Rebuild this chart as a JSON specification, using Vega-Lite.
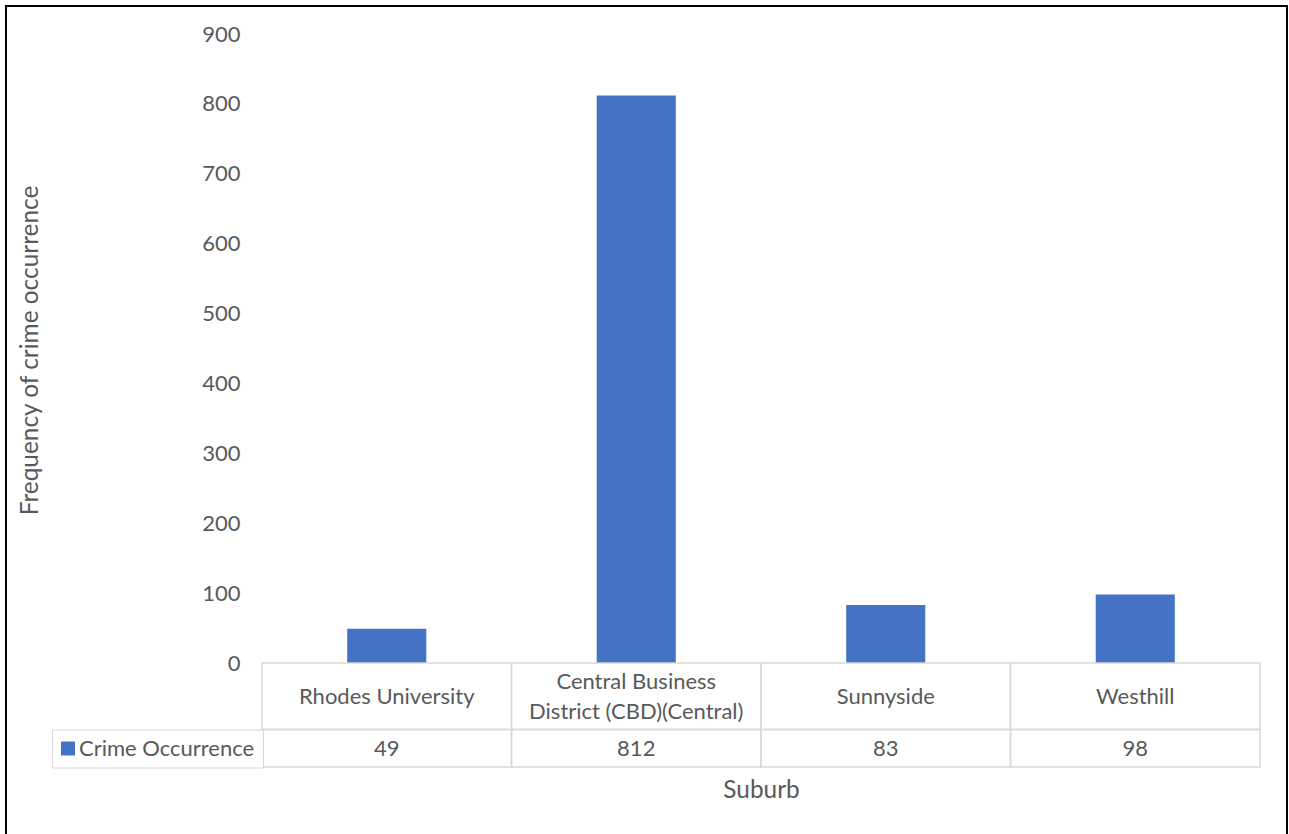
{
  "$schema": "https://vega.github.io/schema/vega-lite/v6.json",
  "autosize": {"type": "none"},
  "padding": {"left": 6, "top": 6, "right": 2, "bottom": -2},
  "width": 1281,
  "height": 830,
  "background": "white",
  "config": {
    "view": {"stroke": "#000000", "strokeWidth": 2, "fill": "white"},
    "font": "Lato",
    "text": {"font": "Lato", "fontSize": 22, "fill": "#595959"}
  },
  "data": {
    "values": [
      {"suburb": "Rhodes University", "label": "Rhodes University", "crimes": 49},
      {"suburb": "Central Business District (CBD)(Central)", "label": "Central Business\nDistrict (CBD)(Central)", "crimes": 812},
      {"suburb": "Sunnyside", "label": "Sunnyside", "crimes": 83},
      {"suburb": "Westhill", "label": "Westhill", "crimes": 98}
    ]
  },
  "encoding": {
    "x": {
      "field": "suburb",
      "type": "nominal",
      "sort": null,
      "scale": {"range": [256, 1254], "paddingInner": 0, "paddingOuter": 0},
      "axis": {
        "title": "Suburb",
        "labels": false,
        "ticks": false,
        "domain": false,
        "grid": false,
        "offset": -69,
        "titleFont": "Lato",
        "titleFontSize": 24.4,
        "titleFontWeight": "normal",
        "titleColor": "#595959",
        "titleBaseline": "alphabetic",
        "titleY": 30
      }
    }
  },
  "layer": [
    {
      "mark": {"type": "bar", "width": {"band": 0.317}, "color": "#4472C4"},
      "encoding": {
        "y": {
          "field": "crimes",
          "type": "quantitative",
          "scale": {"domain": [0, 900], "range": [657, 28], "nice": false, "zero": false},
          "axis": {
            "values": [0, 100, 200, 300, 400, 500, 600, 700, 800, 900],
            "title": "Frequency of crime occurrence",
            "domain": false,
            "ticks": false,
            "grid": false,
            "labelFont": "Lato",
            "labelFontSize": 22,
            "labelColor": "#595959",
            "labelPadding": 0,
            "offset": -234,
            "titleFont": "Lato",
            "titleFontSize": 24.4,
            "titleFontWeight": "normal",
            "titleColor": "#595959",
            "titleX": -210,
            "titleY": 344,
            "titleAngle": -90,
            "titleBaseline": "middle",
            "titleAlign": "center"
          }
        },
        "color": {
          "datum": "Crime Occurrence",
          "scale": {"range": ["#4472C4"]},
          "legend": {
            "title": null,
            "orient": "none",
            "legendX": 46,
            "legendY": 723.5,
            "padding": 8,
            "strokeColor": "#d9d9d9",
            "fillColor": "white",
            "symbolType": "square",
            "symbolSize": 196,
            "symbolStrokeWidth": 0,
            "symbolOffset": -3,
            "labelFont": "Lato",
            "labelFontSize": 22,
            "labelColor": "#595959",
            "labelOffset": 0,
            "labelLimit": 400
          }
        }
      }
    },
    {
      "mark": {"type": "rect", "fillOpacity": 0, "stroke": "#d9d9d9", "strokeWidth": 1.5},
      "encoding": {"y": {"datum": 0}, "y2": {"datum": -95.3}}
    },
    {
      "mark": {"type": "rect", "fillOpacity": 0, "stroke": "#d9d9d9", "strokeWidth": 1.5},
      "encoding": {"y": {"datum": -95.3}, "y2": {"datum": -148.9}}
    },
    {
      "transform": [{"filter": "indexof(datum.label, '\\n') < 0"}],
      "mark": {"type": "text", "baseline": "middle", "align": "center"},
      "encoding": {"y": {"datum": -48.6}, "text": {"field": "label", "type": "nominal"}}
    },
    {
      "transform": [{"filter": "indexof(datum.label, '\\n') >= 0"}],
      "mark": {"type": "text", "lineBreak": "\n", "lineHeight": 30, "baseline": "middle", "align": "center", "dy": -15},
      "encoding": {"y": {"datum": -48.6}, "text": {"field": "label", "type": "nominal"}}
    },
    {
      "mark": {"type": "text", "baseline": "middle", "align": "center"},
      "encoding": {"y": {"datum": -123.1}, "text": {"field": "crimes", "type": "quantitative"}}
    }
  ]
}
